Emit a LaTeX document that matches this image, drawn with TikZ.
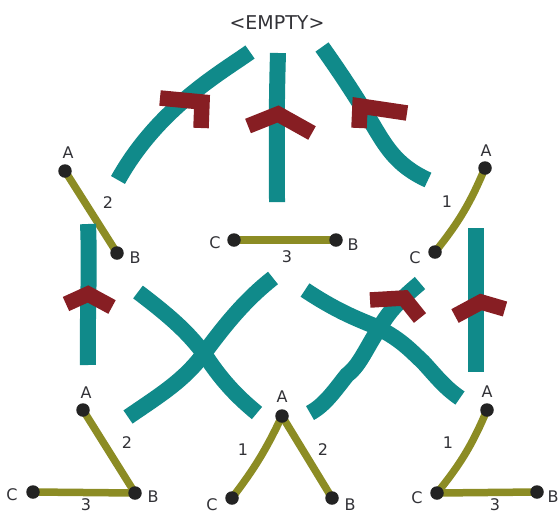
\documentclass[tikz,border=0pt]{standalone}
\usepackage{fontspec}
\setsansfont{DejaVu Sans}
\usetikzlibrary{backgrounds}

\definecolor{strandcol}{RGB}{16,138,138}
\definecolor{tipcol}{RGB}{135,30,35}
\definecolor{bondcol}{RGB}{140,140,36}
\definecolor{dotcol}{RGB}{35,35,35}
\definecolor{txtcol}{RGB}{50,50,55}

\tikzset{
  vtx/.style={circle, fill=dotcol, inner sep=0pt, minimum size=13.5pt},
  bondline/.style={draw=bondcol, line width=7.5pt},
  strand/.style={draw=strandcol, line width=16pt},
  tipmark/.style={draw=tipcol, line width=15.5pt, line join=miter},
  lbl/.style={font=\sffamily\fontsize{16}{19}\selectfont, text=txtcol, inner sep=0pt},
}

\begin{document}
\begin{tikzpicture}[x=1pt, y=-1pt]
\useasboundingbox (0,0) rectangle (560,515);

% title of the start state
\node[font=\sffamily\fontsize{19}{22}\selectfont, text=txtcol, inner sep=0pt] (empty) at (277,23) {<EMPTY>};

% ---------- graph states ----------
% top left: A-B
\node[vtx] (tlA) at (65,171) {};
\node[vtx] (tlB) at (117,253) {};
% top centre: C-B
\node[vtx] (cC) at (234,240) {};
\node[vtx] (cB) at (336,240) {};
% top right: A-C
\node[vtx] (trA) at (485,168) {};
\node[vtx] (trC) at (435,252) {};
% bottom left: A-B-C
\node[vtx] (blA) at (83,410) {};
\node[vtx] (blB) at (135,493) {};
\node[vtx] (blC) at (33,492) {};
% bottom centre: C-A-B
\node[vtx] (bcA) at (282,416) {};
\node[vtx] (bcC) at (232,498) {};
\node[vtx] (bcB) at (332,498) {};
% bottom right: A-C-B
\node[vtx] (brA) at (487,410) {};
\node[vtx] (brC) at (437,493) {};
\node[vtx] (brB) at (537,492) {};

\begin{pgfonlayer}{background}
  \draw[bondline] (tlA.center) -- (tlB.center);
  \draw[bondline] (cC.center) -- (cB.center);
  \draw[bondline] (trC.center) to[bend right=8] (trA.center);
  \draw[bondline] (blA.center) -- (blB.center);
  \draw[bondline] (blC.center) -- (blB.center);
  \draw[bondline] (bcC.center) to[bend right=6] (bcA.center);
  \draw[bondline] (bcA.center) -- (bcB.center);
  \draw[bondline] (brC.center) to[bend right=8] (brA.center);
  \draw[bondline] (brC.center) -- (brB.center);
\end{pgfonlayer}

% vertex and edge labels
\node[lbl] (tlAl) at (68,153) {A};
\node[lbl] (tlBl) at (135,258) {B};
\node[lbl] (tle)  at (108,203) {2};
\node[lbl] (cCl)  at (215,243) {C};
\node[lbl] (cBl)  at (353,245) {B};
\node[lbl] (ce)   at (287,257) {3};
\node[lbl] (trAl) at (486,151) {A};
\node[lbl] (trCl) at (415,258) {C};
\node[lbl] (tre)  at (447,202) {1};
\node[lbl] (blAl) at (86,393) {A};
\node[lbl] (blBl) at (153,497) {B};
\node[lbl] (blCl) at (12,495) {C};
\node[lbl] (ble1) at (127,443) {2};
\node[lbl] (ble2) at (86,505) {3};
\node[lbl] (bcAl) at (282,397) {A};
\node[lbl] (bcCl) at (212,505) {C};
\node[lbl] (bcBl) at (350,505) {B};
\node[lbl] (bce1) at (243,450) {1};
\node[lbl] (bce2) at (323,450) {2};
\node[lbl] (brAl) at (487,392) {A};
\node[lbl] (brCl) at (417,498) {C};
\node[lbl] (brBl) at (553,497) {B};
\node[lbl] (bre1) at (448,443) {1};
\node[lbl] (bre2) at (495,505) {3};

% ---------- transition strands ----------
% from the empty state
\coordinate (s1a) at (250,52);  \coordinate (s1b) at (118,180);
\coordinate (s2a) at (278,53);  \coordinate (s2b) at (277,202);
\coordinate (s3a) at (322,47);  \coordinate (s3b) at (428,180);
\draw[strand] (s1a) .. controls (222,72) and (158,108) .. (s1b);
\draw[strand] (s2a) .. controls (276,120) and (277,160) .. (s2b);
\draw[strand] (s3a) .. controls (342,75) and (358,100) .. (370,120)
                    .. controls (385,145) and (395,165) .. (s3b);
% second row to third row
\coordinate (s4a) at (88,224);  \coordinate (s4b) at (88,365);
\coordinate (s5a) at (476,228); \coordinate (s5b) at (476,372);
\draw[strand] (s4a) .. controls (90,270) and (87,320) .. (s4b);
\draw[strand] (s5a) -- (s5b);
\coordinate (s6a) at (138,292); \coordinate (s6b) at (257,413);
\coordinate (s7a) at (273,278); \coordinate (s7b) at (128,417);
\draw[strand] (s6a) .. controls (175,320) and (190,335) .. (205,355)
                    .. controls (220,378) and (235,395) .. (s6b);
\draw[strand] (s7a) .. controls (245,300) and (225,325) .. (205,352)
                    .. controls (185,380) and (160,395) .. (s7b);
\coordinate (s8a) at (305,290); \coordinate (s8b) at (460,398);
\coordinate (s9a) at (420,283); \coordinate (s9b) at (310,413);
\draw[strand] (s8a) .. controls (335,310) and (355,318) .. (372,325)
                    .. controls (400,338) and (410,350) .. (423,362)
                    .. controls (435,375) and (445,388) .. (s8b);
\draw[strand] (s9a) .. controls (400,300) and (390,310) .. (380,327)
                    .. controls (365,350) and (360,365) .. (347,375)
                    .. controls (335,390) and (325,405) .. (s9b);

% ---------- arrow heads ----------
\draw[tipmark] (160,98) -- (202,102) -- (201,128);
\draw[tipmark] (248,126) -- (278,114) -- (312,133);
\draw[tipmark] (359,128) -- (360,106) -- (407,113);
\draw[tipmark] (66,304) -- (88,294) -- (112,307);
\draw[tipmark] (455,316) -- (481,302) -- (505,309);
\draw[tipmark] (370,300) -- (404,298) -- (420,318);
\end{tikzpicture}
\end{document}
